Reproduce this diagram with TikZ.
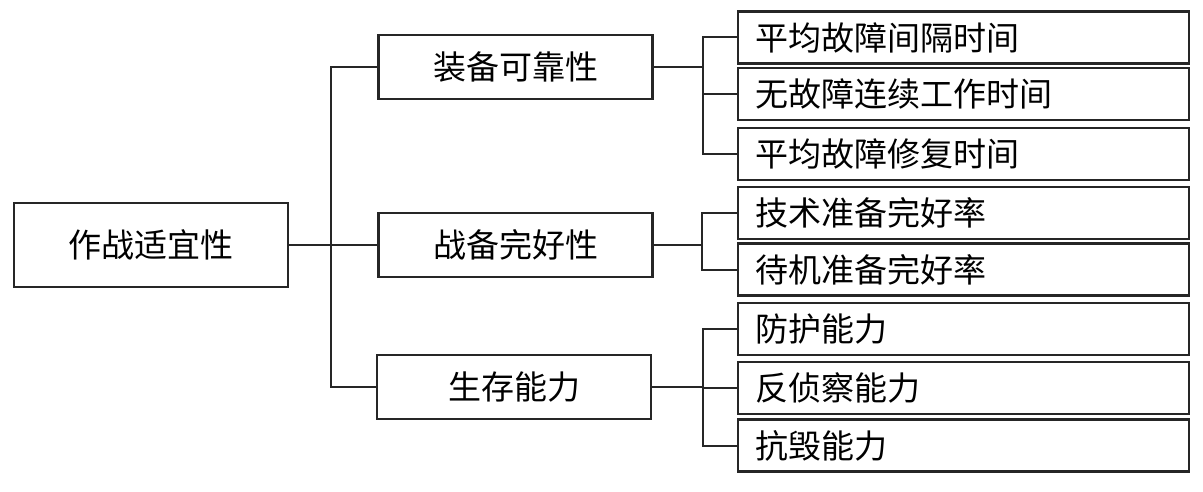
\documentclass[tikz,border=0pt]{standalone}
\usepackage{fontspec}
\setmainfont{Noto Sans CJK SC}
\tikzset{
    tr box/.style={draw=black!85, line width=2.2pt, fill=white,
                   font=\fontsize{33}{38}\selectfont, inner sep=0pt},
    tr root/.style={tr box, minimum width=274pt, minimum height=84pt},
    tr mid/.style={tr box, minimum width=274pt, minimum height=64pt},
    tr leaf/.style={tr box, text width=417pt, inner xsep=17pt,
                    minimum height=52pt, align=left},
    tr link/.style={line width=2pt, black!85},
}
\begin{document}
\begin{tikzpicture}[x=1pt, y=-1pt]
    \useasboundingbox (0,0) rectangle (1203,492);
    % Root
    \node[tr root] (root) at (151, 245) {作战适宜性};
    % Middle level
    \node[tr mid] (rel) at (515.5, 67)  {装备可靠性};
    \node[tr mid] (rdy) at (515.5, 245) {战备完好性};
    \node[tr mid] (srv) at (514, 387)   {生存能力};
    % Leaves
    \node[tr leaf] (mtbf) at (963.5, 37.5)  {平均故障间隔时间};
    \node[tr leaf] (ffot) at (963.5, 94)    {无故障连续工作时间};
    \node[tr leaf] (mttr) at (963.5, 154)   {平均故障修复时间};
    \node[tr leaf] (tech) at (963.5, 213)   {技术准备完好率};
    \node[tr leaf] (stby) at (963.5, 269.5) {待机准备完好率};
    \node[tr leaf] (prot) at (963.5, 329)   {防护能力};
    \node[tr leaf] (anti) at (963.5, 388)   {反侦察能力};
    \node[tr leaf] (dmg)  at (963.5, 445.5) {抗毁能力};
    % Junction points
    \coordinate (trunk) at (331, 245);
    \coordinate (bRel) at (703, 67);
    \coordinate (bRdy) at (702, 245);
    \coordinate (bSrv) at (703, 387);
    % Root to middle level
    \draw[tr link] (root) -- (trunk) -- (rdy);
    \draw[tr link] (rel.west) -| (trunk) |- (srv.west);
    % Middle level to leaves
    \draw[tr link] (rel) -- (bRel);
    \draw[tr link] (mtbf.west) -| (bRel) |- (mttr.west);
    \draw[tr link] (bRel) |- (ffot.west);
    \draw[tr link] (rdy) -- (bRdy);
    \draw[tr link] (tech.west) -| (bRdy) |- (stby.west);
    \draw[tr link] (srv) -- (bSrv);
    \draw[tr link] (prot.west) -| (bSrv) |- (dmg.west);
    \draw[tr link] (bSrv) |- (anti.west);
\end{tikzpicture}
\end{document}
